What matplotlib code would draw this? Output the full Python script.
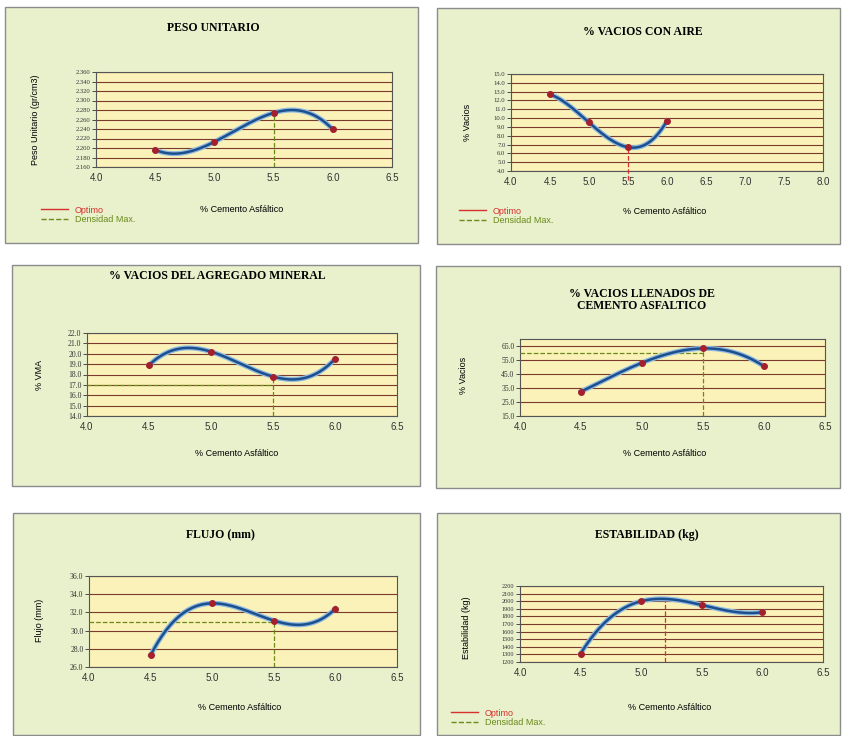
import numpy as np
import matplotlib.pyplot as plt
from matplotlib.patches import Rectangle
from matplotlib.lines import Line2D
import matplotlib.patheffects as pe

W, H = 842, 736

# contenido de asfalto (%)
asfalto = [4.5, 5.0, 5.5, 6.0]

peso_unitario = [2.196, 2.213, 2.274, 2.239]
vacios_aire = [12.7, 9.5, 6.7, 9.7]
vma = [18.9, 20.2, 17.8, 19.5]
vfa = [32.4, 53.0, 63.3, 50.5]
flujo = [27.3, 33.0, 31.1, 32.4]
estabilidad = [1310, 2000, 1950, 1855]

optimo_estab = 5.2
dens_max = 5.5
vma_ref = 17.0
vfa_ref = 60.0
flujo_ref = 31.0

titles = ['PESO UNITARIO', '% VACIOS CON AIRE', '% VACIOS DEL AGREGADO MINERAL',
          '% VACIOS LLENADOS DE\nCEMENTO ASFALTICO', 'FLUJO (mm)', 'ESTABILIDAD (kg)']
ylabels = ['Peso Unitario (gr/cm3)', '% Vacios', '% VMA', '% Vacios', 'Flujo (mm)',
           'Estabilidad (kg)']

RED = '#d8302c'
GREEN = '#6a8a1a'

fig = plt.figure(figsize=(W / 100, H / 100), dpi=100)
fig.patch.set_facecolor('white')


def frame(x0, y0, x1, y1):
    fig.add_artist(Rectangle((x0 / W, 1 - y1 / H), (x1 - x0) / W, (y1 - y0) / H,
                             transform=fig.transFigure, facecolor='#e8f0cc',
                             edgecolor='#8c8c8c', lw=1.0, zorder=0))


def axes_px(x0, y0, x1, y1):
    ax = fig.add_axes([x0 / W, 1 - y1 / H, (x1 - x0) / W, (y1 - y0) / H])
    ax.set_facecolor('#faf2b8')
    for s in ax.spines.values():
        s.set_color('#555555')
        s.set_linewidth(0.8)
    return ax


def curve(ax, y, ylim, yticks, yfmt, yfs, xmax=6.5):
    coef = np.polyfit(asfalto, y, 3)
    xs = np.linspace(asfalto[0], asfalto[-1], 200)
    ax.plot(xs, np.polyval(coef, xs), color='#1d4f8c', lw=1.8, zorder=4,
            path_effects=[pe.Stroke(linewidth=3.6, foreground='#8db9e2'), pe.Normal()])
    ax.plot(asfalto, y, 'o', color='#a3202c', ms=4, zorder=5)
    ax.set_xlim(4.0, xmax)
    ax.set_xticks(np.arange(4.0, xmax + 0.01, 0.5))
    ax.set_xticklabels(['%.1f' % v for v in np.arange(4.0, xmax + 0.01, 0.5)], fontsize=7,
                       family='Liberation Sans')
    ax.set_ylim(*ylim)
    ax.set_yticks(yticks)
    ax.set_yticklabels([yfmt % v for v in yticks], fontsize=yfs, family='Liberation Serif')
    ax.tick_params(axis='x', length=0, pad=4, colors='#333333')
    ax.tick_params(axis='y', length=3, pad=1, colors='#333333', width=0.6)
    for t in yticks:
        ax.axhline(t, color='#7a3a2c', lw=0.8, zorder=1)
    return coef


def legend(ax, x, y):
    h = [Line2D([], [], color=RED, lw=1), Line2D([], [], color=GREEN, lw=1, ls='--')]
    ax.legend(h, ['Optimo', 'Densidad Max.'], loc='upper left', bbox_to_anchor=(x / W, 1 - y / H),
              bbox_transform=fig.transFigure, frameon=False, fontsize=6.5, handlelength=3,
              labelspacing=0.1, borderpad=0, labelcolor=[RED, GREEN],
              prop={'family': 'Liberation Sans', 'size': 6.5})


def texts(i, tx, ty, xx, xy, yx, yy):
    fig.text(tx / W, 1 - ty / H, titles[i], ha='center', va='center', fontsize=8.5,
             fontweight='bold', family='Liberation Serif', linespacing=1.1)
    fig.text(xx / W, 1 - xy / H, '% Cemento Asfáltico', ha='center', va='center', fontsize=6.5,
             family='Liberation Sans')
    fig.text(yx / W, 1 - yy / H, ylabels[i], ha='center', va='center', fontsize=6.5,
             rotation=90, family='Liberation Sans')


frame(5, 7, 418, 243)
frame(437, 8, 840, 244)
frame(12, 265, 420, 486)
frame(436, 266, 840, 488)
frame(13, 513, 420, 735)
frame(437, 513, 840, 735)

# 1 peso unitario
ax = axes_px(96, 72, 392, 167)
c = curve(ax, peso_unitario, (2.16, 2.36), np.arange(2.16, 2.361, 0.02), '%.3f', 4.8)
ax.plot([dens_max, dens_max], [2.16, np.polyval(c, dens_max)], '--', color=GREEN, lw=0.9, zorder=3)
texts(0, 213, 28, 242, 210, 35, 120)
legend(ax, 36, 201)

# 2 vacios con aire
ax = axes_px(511, 74, 823, 171)
c = curve(ax, vacios_aire, (4.0, 15.0), np.arange(4.0, 15.01, 1.0), '%.1f', 4.8, xmax=8.0)
ax.plot([dens_max, dens_max], [3.0, np.polyval(c, dens_max)], '--', color=RED, lw=0.9, zorder=3,
        clip_on=False)
texts(1, 643, 32, 665, 212, 468, 122)
legend(ax, 454, 202)

# 3 VMA
ax = axes_px(87, 333, 397, 416)
c = curve(ax, vma, (14.0, 22.0), np.arange(14.0, 22.01, 1.0), '%.1f', 5.5)
ax.plot([4.0, dens_max], [vma_ref, vma_ref], '--', color=GREEN, lw=0.9, zorder=3)
ax.plot([dens_max, dens_max], [14.0, np.polyval(c, dens_max)], '--', color=GREEN, lw=0.9, zorder=3)
texts(2, 217, 276, 237, 454, 40, 375)

# 4 VFA
ax = axes_px(520, 339, 825, 416)
c = curve(ax, vfa, (15.0, 70.0), np.arange(15.0, 65.01, 10.0), '%.1f', 5.5)
ax.plot([4.0, dens_max], [vfa_ref, vfa_ref], '--', color=GREEN, lw=0.9, zorder=3)
ax.plot([dens_max, dens_max], [15.0, np.polyval(c, dens_max)], '--', color=GREEN, lw=0.9, zorder=3)
texts(3, 642, 300, 665, 454, 463, 375)

# 5 flujo
ax = axes_px(89, 576, 397, 667)
c = curve(ax, flujo, (26.0, 36.0), np.arange(26.0, 36.01, 2.0), '%.1f', 5.5)
ax.plot([4.0, dens_max], [flujo_ref, flujo_ref], '--', color=GREEN, lw=0.9, zorder=3)
ax.plot([dens_max, dens_max], [26.0, np.polyval(c, dens_max)], '--', color=GREEN, lw=0.9, zorder=3)
texts(4, 220, 535, 240, 707, 40, 620)

# 6 estabilidad
ax = axes_px(520, 586, 823, 662)
c = curve(ax, estabilidad, (1200, 2200), np.arange(1200, 2201, 100), '%d', 4.5)
ax.plot([optimo_estab, optimo_estab], [1200, np.polyval(c, optimo_estab)], '--', color=RED, lw=0.9,
        zorder=3)
texts(5, 647, 535, 670, 708, 467, 628)
legend(ax, 446, 704)

fig.savefig('out.png', dpi=100)
